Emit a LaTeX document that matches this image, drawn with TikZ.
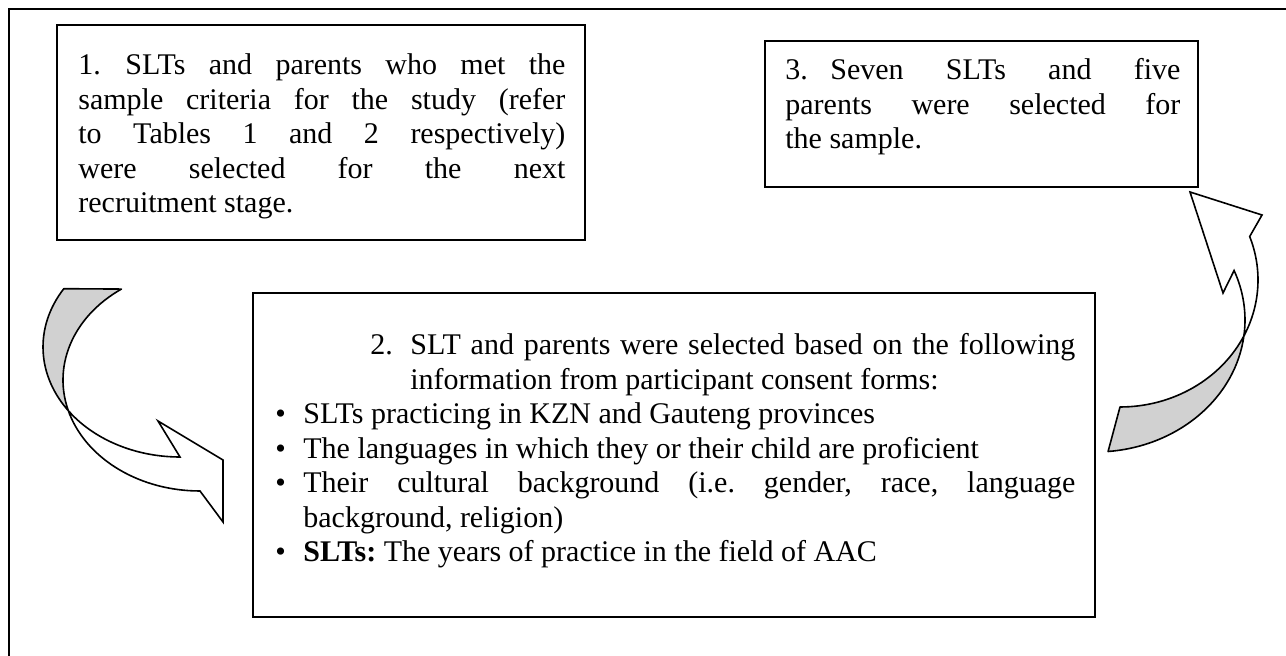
\documentclass[tikz,border=0pt]{standalone}
\usepackage{fontspec}
\setmainfont{Liberation Serif}
\usetikzlibrary{calc}
\newcommand{\critline}[1]{\par\hangindent=14pt\hangafter=1\noindent\makebox[14pt][l]{\textbullet}#1}
\definecolor{backface}{RGB}{209,209,209}
\tikzset{
  panel/.style={draw, line width=1pt, rectangle, inner sep=0pt},
  blurb/.style={anchor=base west, inner sep=0pt, align=justify, font=\fontsize{15pt}{17.25pt}\selectfont\frenchspacing},
  bandback/.style={draw, line width=0.8pt, fill=backface, line join=round},
  bandfront/.style={draw, line width=0.8pt, fill=white, line join=miter}
}

\begin{document}
\begin{tikzpicture}[x=0.5pt, y=-0.5pt]
        \useasboundingbox (0,0) rectangle (1286,656);

        % Frame (left and top only)
        \draw[line width=1.35pt] (9,656) -- (9,9) -- (1286,9);

        % Boxes
        \node[panel, minimum width=264pt, minimum height=107.5pt] (box1) at (321,132.5) {};
        \node[panel, minimum width=216.5pt, minimum height=73pt] (box3) at (981.5,114) {};
        \node[panel, minimum width=421pt, minimum height=162pt] (box2) at (674,455) {};

        % Stage 1
        \node[blurb, text width=243.5pt] (step1) at (78,75) {\hangindent=23.5pt\hangafter=1\noindent\makebox[23.5pt][l]{1.}SLTs and parents who met the\linebreak sample criteria for the study (refer\linebreak to Tables 1 and 2 respectively)\linebreak were selected for the next\linebreak recruitment stage.};

        % Stage 3
        \node[blurb, text width=197.5pt] (step3) at (785,80) {\hangindent=22.5pt\hangafter=1\noindent\makebox[22.5pt][l]{3.}Seven SLTs and five\linebreak parents were selected for\linebreak the sample.};

        % Stage 2 with the criteria
        \node[blurb, text width=400pt] (step2) at (275,355) {{\leftskip=47.5pt\hangindent=20pt\hangafter=1\noindent\makebox[20pt][l]{2.}SLT and parents were selected based on the following\linebreak information from participant consent forms:\par}%
          \critline{SLTs practicing in KZN and Gauteng provinces}%
          \critline{The languages in which they or their child are proficient}%
          \critline{Their cultural background (i.e. gender, race, language\linebreak background, religion)}%
          \critline{\textbf{SLTs:} The years of practice in the field of AAC}};

        % Left curved arrow: back face, then front face with head
        \draw[bandback] (180,347) ++(212:137 and 110) arc[start angle=212, end angle=143.4, x radius=137, y radius=110]
          -- ($(200,380)+(162:137 and 111)$) arc[start angle=162, end angle=235, x radius=137, y radius=111] -- cycle;
        \draw[bandfront] (180,347) ++(143.4:137 and 110) arc[start angle=143.4, end angle=90, x radius=137, y radius=110]
          -- (158,421) -- (223,460) -- (223,522) -- (200,491)
          arc[start angle=90, end angle=162, x radius=137, y radius=111] -- cycle;

        % Right curved arrow: back face, then front face with head
        \draw[bandback] (1095,320) ++(85:150 and 132) arc[start angle=85, end angle=6.5, x radius=150, y radius=132]
          -- ($(1120,280)+(25.7:138 and 127)$) arc[start angle=25.7, end angle=90, x radius=138, y radius=127] -- cycle;
        \draw[bandfront] (1120,280) ++(25.7:138 and 127) arc[start angle=25.7, end angle=-20, x radius=138, y radius=127]
          -- (1262,215) -- (1190,192) -- (1223,293) -- ($(1095,320)+(-22:150 and 132)$)
          arc[start angle=-22, end angle=6.5, x radius=150, y radius=132] -- cycle;
      \end{tikzpicture}
\end{document}
